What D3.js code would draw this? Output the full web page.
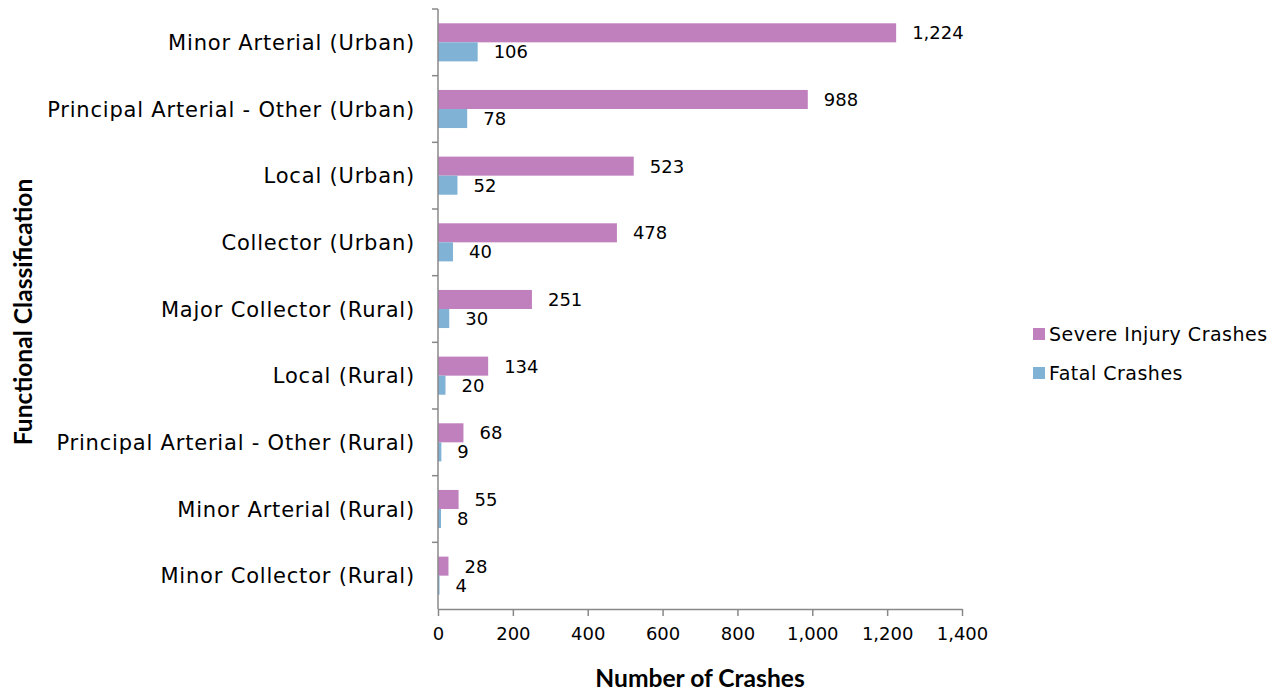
<!DOCTYPE html>
<html><head><meta charset="utf-8">
<script src="https://cdn.jsdelivr.net/npm/d3@7"></script>
<style>body{margin:0;background:#fff;} svg{display:block;}</style>
</head><body>
<svg id="c" width="1280" height="694"></svg>
<script>
const categories = ["Minor Arterial (Urban)","Principal Arterial - Other (Urban)","Local (Urban)","Collector (Urban)","Major Collector (Rural)","Local (Rural)","Principal Arterial - Other (Rural)","Minor Arterial (Rural)","Minor Collector (Rural)"];
const severeInjury = [1224,988,523,478,251,134,68,55,28];
const fatal = [106,78,52,40,30,20,9,8,4];
const seriesNames = ["Severe Injury Crashes","Fatal Crashes"];
const xTicks = [0,200,400,600,800,1000,1200,1400];
const colors = ["#C080BE","#7FB2D5"];

(function(){
const svg = d3.select("#c");
const pLeft = 438, pRight = 962, pTop = 9, pBottom = 609;
const x = d3.scaleLinear().domain([0,1400]).range([pLeft,pRight]);
const y = d3.scaleBand().domain(categories).range([pTop,pBottom]).paddingInner(0).paddingOuter(0);
const inner = d3.scaleBand().domain([0,1]).range([0,y.bandwidth()]).paddingOuter(0.75).paddingInner(0);
const fmt = d3.format(",");
const font = "'DejaVu Sans', sans-serif";
const axisCol = "#888888";

const series = [severeInjury, fatal];
series.forEach((vals,si)=>{
  const g = svg.append("g");
  g.selectAll("rect").data(categories).enter().append("rect")
    .attr("x", x(0)).attr("y", (d)=>y(d)+inner(si))
    .attr("width",(d,i)=>x(vals[i])-x(0)).attr("height", inner.bandwidth())
    .attr("fill", colors[si]);
  g.selectAll("text").data(categories).enter().append("text")
    .attr("x",(d,i)=>x(vals[i])+16).attr("y",(d)=>y(d)+inner(si)+inner.bandwidth()/2)
    .attr("dy","0.36em").attr("font-family",font).attr("font-size",18).attr("fill","#000")
    .text((d,i)=>fmt(vals[i]));
});

const xa = svg.append("g").attr("transform",`translate(0,${pBottom})`)
  .call(d3.axisBottom(x).tickValues(xTicks).tickFormat(fmt).tickSize(7).tickSizeOuter(0));
xa.select(".domain").attr("stroke",axisCol).attr("stroke-width",1.5);
xa.selectAll(".tick line").attr("stroke",axisCol).attr("stroke-width",1.5);
xa.selectAll("text").attr("font-family",font).attr("font-size",18).attr("fill","#000").attr("y",24).attr("dy","0");
xa.selectAll("text").attr("dominant-baseline","central");

const ya = svg.append("g").attr("transform",`translate(${pLeft},0)`);
ya.append("line").attr("x1",0).attr("x2",0).attr("y1",pTop).attr("y2",pBottom).attr("stroke",axisCol).attr("stroke-width",1.5);
const seps = categories.map(c=>y(c));
ya.selectAll("line.sep").data(seps).enter().append("line").attr("class","sep")
  .attr("x1",-6).attr("x2",0).attr("y1",d=>d).attr("y2",d=>d).attr("stroke",axisCol).attr("stroke-width",1.5);
ya.selectAll("text").data(categories).enter().append("text")
  .attr("x",-23).attr("y",d=>y(d)+y.bandwidth()/2).attr("dy","0.36em").attr("text-anchor","end")
  .attr("font-family",font).attr("font-size",21).attr("letter-spacing","0.8px").attr("fill","#000").text(d=>d);

svg.append("text").attr("x",(pLeft+pRight)/2).attr("y",687).attr("text-anchor","middle")
  .attr("font-family","Lato, sans-serif").attr("font-weight","bold").attr("font-size",24.6).text("Number of Crashes");
svg.append("text").attr("transform","translate(32,312) rotate(-90)").attr("text-anchor","middle")
  .attr("font-family","Lato, sans-serif").attr("font-weight","bold").attr("font-size",24.6).text("Functional Classification");

const lg = svg.append("g");
seriesNames.forEach((n,i)=>{
  const yy = 334 + i*39;
  lg.append("rect").attr("x",1033).attr("y",yy-6).attr("width",12).attr("height",12).attr("fill",colors[i]);
  lg.append("text").attr("x",1049).attr("y",yy).attr("dy","0.36em").attr("font-family",font).attr("font-size",19).attr("letter-spacing","0.5px").text(n);
});
})();
</script>
</body></html>
